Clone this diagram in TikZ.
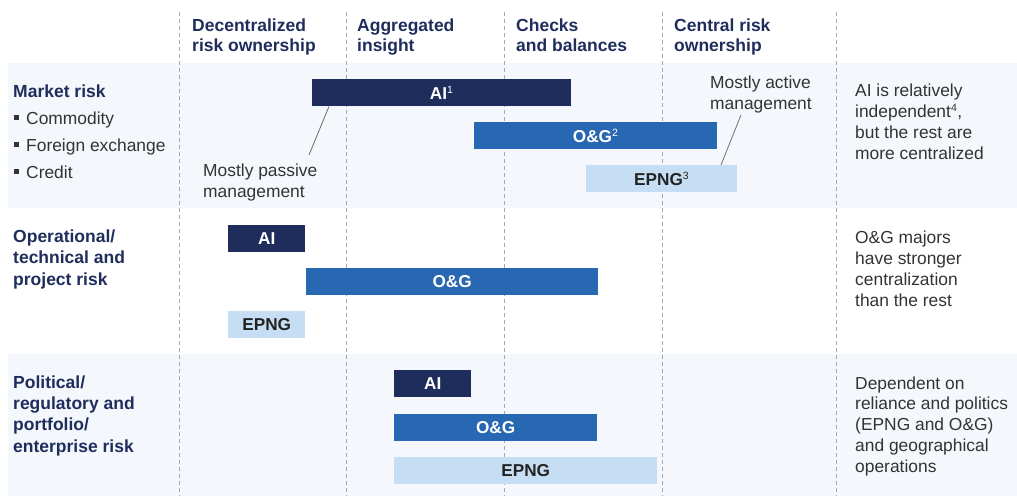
\documentclass[tikz,border=0pt]{standalone}
\usepackage{fontspec}
\setmainfont{Liberation Sans}
\definecolor{navy}{HTML}{1F2D5C}
\definecolor{midblue}{HTML}{2867B2}
\definecolor{paleblue}{HTML}{C6DEF3}
\definecolor{bandbg}{HTML}{F4F8FC}
\definecolor{gridgray}{HTML}{A8A8A8}
\definecolor{bodytext}{HTML}{333333}
\definecolor{darklabel}{HTML}{222222}
\newcommand\supnum[1]{\textsuperscript{\fontsize{10.5}{10.5}\selectfont\mdseries #1}}
\newcommand\sqbullet{\raisebox{4.5pt}{\rule{4.5pt}{4.5pt}}\hspace{7.5pt}}
% multi-line nodes below are placed by the baseline of their last line
\tikzset{
  band/.style={fill=bandbg},
  grid line/.style={draw=gridgray, line width=0.9pt, dash pattern=on 4pt off 3pt},
  colhead/.style={anchor=base west, inner sep=0pt, align=left, text=navy,
    font=\fontsize{17.5}{20}\selectfont\bfseries},
  rowhead/.style={anchor=base west, inner sep=0pt, align=left, text=navy,
    font=\fontsize{17.5}{21.3}\selectfont\bfseries},
  note/.style={anchor=base west, inner sep=0pt, align=left, text=bodytext,
    font=\fontsize{17.4}{20.7}\selectfont},
  bar/.style={anchor=north west, inner sep=0pt, minimum height=27pt,
    font=\fontsize{17.2}{20}\selectfont\bfseries},
  ai bar/.style={bar, fill=navy, text=white},
  og bar/.style={bar, fill=midblue, text=white},
  epng bar/.style={bar, fill=paleblue, text=darklabel},
  leader/.style={draw=gray!85!black, line width=0.8pt},
}
\begin{document}
\begin{tikzpicture}[x=1pt, y=-1pt]
\useasboundingbox (0,0) rectangle (1017,496);

% shaded row bands
\fill[band] (8,63) rectangle (1017,208);
\fill[band] (8,354) rectangle (1017,496);

% dashed column separators
\foreach \gx in {179,346,504,662,836}
  \draw[grid line] (\gx,12) -- (\gx,496);

% column headings
\node[colhead] (h1) at (192,51) {Decentralized\\risk ownership};
\node[colhead] (h2) at (357,51) {Aggregated\\insight};
\node[colhead] (h3) at (516,51) {Checks\\and balances};
\node[colhead] (h4) at (674,51) {Central risk\\ownership};

% ---- market risk ----
\node[rowhead] (r1) at (13,97) {Market risk};
\node[note, font=\fontsize{17.4}{27}\selectfont] (r1items) at (14,178)
  {\sqbullet Commodity\\
   \sqbullet Foreign exchange\\
   \sqbullet Credit};

\node[ai bar, minimum width=259pt] (ai1) at (312,79) {AI\supnum{1}};
\node[og bar, minimum width=243pt] (og1) at (474,122) {O\&G\supnum{2}};
\node[epng bar, minimum width=151pt] (ep1) at (586,165) {EPNG\supnum{3}};

\node[note] (passive) at (203,197) {Mostly passive\\management};
\node[note] (active) at (710,109) {Mostly active\\management};

\path (ai1.south west) ++(17,0) coordinate (passA);
\coordinate (passB) at (309,155);
\draw[leader] (passA) -- (passB);
\path (ep1.north west) ++(135,0) coordinate (actA);
\coordinate (actB) at (741,115);
\draw[leader] (actA) -- (actB);

\node[note] (c1) at (855,159) {AI is relatively\\independent\supnum{4},\\but the rest are\\more centralized};

% ---- operational risk ----
\node[rowhead] (r2) at (13,285) {Operational/\\technical and\\project risk};
\node[ai bar, minimum width=77pt] (ai2) at (228,225) {AI};
\node[og bar, minimum width=292pt] (og2) at (306,268) {O\&G};
\node[epng bar, minimum width=77pt] (ep2) at (228,311) {EPNG};
\node[note] (c2) at (855,306) {O\&G majors\\have stronger\\centralization\\than the rest};

% ---- political risk ----
\node[rowhead] (r3) at (13,452) {Political/\\regulatory and\\portfolio/\\enterprise risk};
\node[ai bar, minimum width=77pt] (ai3) at (394,370) {AI};
\node[og bar, minimum width=203pt] (og3) at (394,414) {O\&G};
\node[epng bar, minimum width=263pt] (ep3) at (394,457) {EPNG};
\node[note] (c3) at (855,472) {Dependent on\\reliance and politics\\(EPNG and O\&G)\\and geographical\\operations};
\end{tikzpicture}
\end{document}
